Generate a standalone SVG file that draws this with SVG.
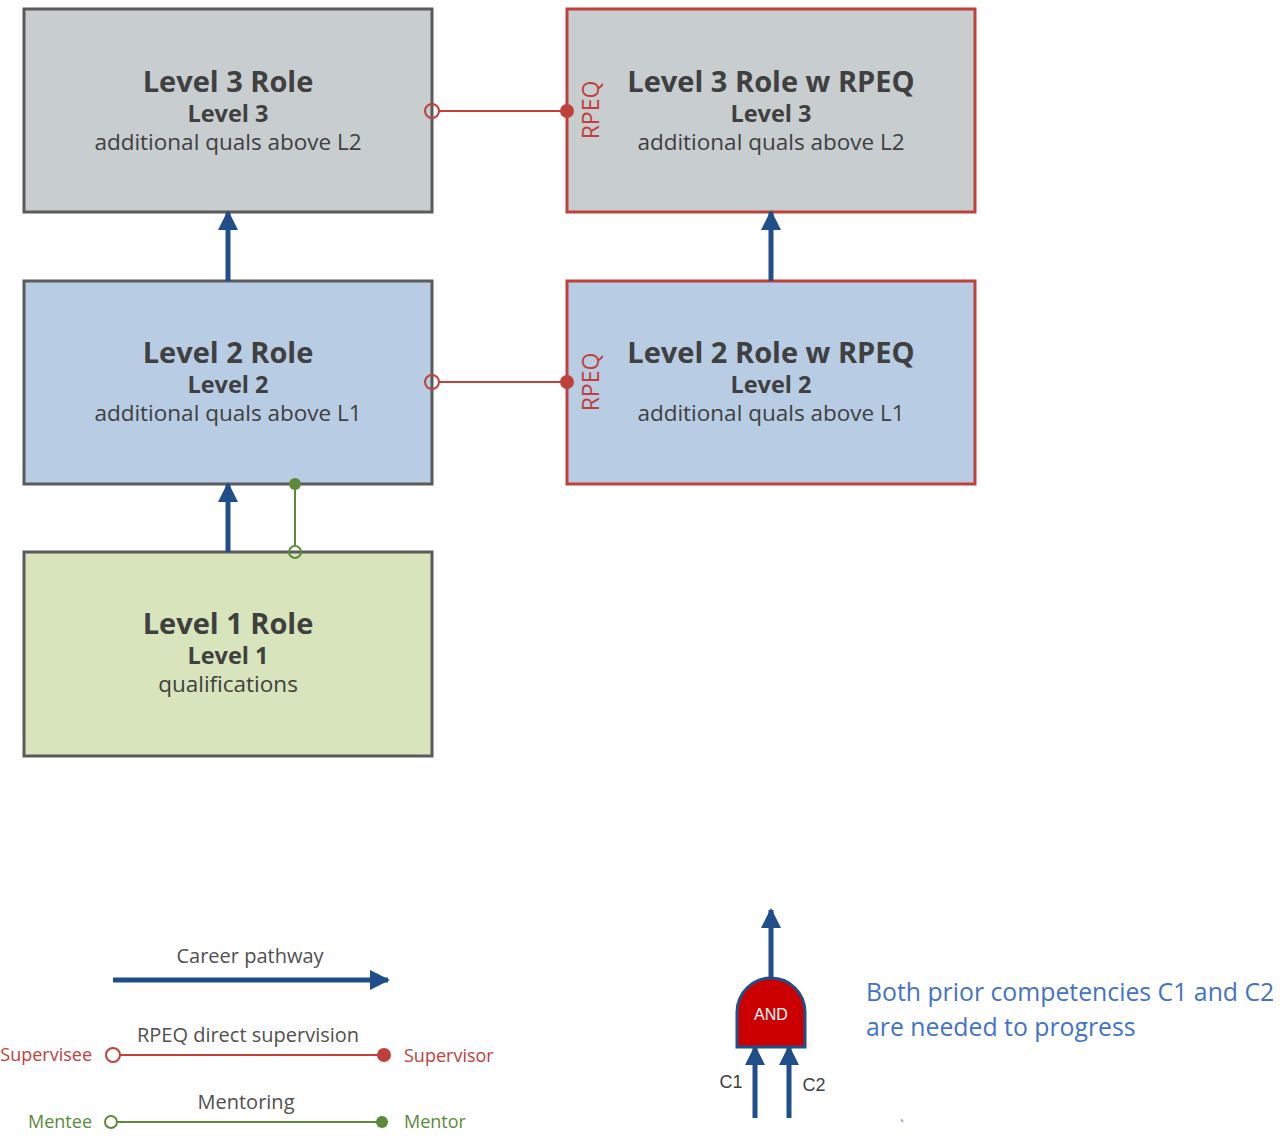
<svg xmlns="http://www.w3.org/2000/svg" width="1284" height="1136" viewBox="0 0 1284 1136">
<defs>
<marker id="arr" viewBox="0 0 10 10" refX="9" refY="5" markerWidth="4" markerHeight="4" orient="auto" markerUnits="strokeWidth">
<path d="M0,0 L10,5 L0,10 z" fill="#1f4e8a"/>
</marker>
<style>
.box{stroke-width:3}
.gray{fill:#c8cdd0;stroke:#5b5b5b}
.blue{fill:#b8cce4;stroke:#5b5b5b}
.green{fill:#d8e4bc;stroke:#5b5b5b}
.red{stroke:#c0403a}
.t1{font-family:"Open Sans",sans-serif;font-weight:bold;font-size:29px;fill:#404040;text-anchor:middle}
.t2{font-family:"Open Sans",sans-serif;font-weight:bold;font-size:23.5px;fill:#404040;text-anchor:middle}
.t3{font-family:"Open Sans",sans-serif;font-size:22.5px;fill:#404040;text-anchor:middle}
.rp{font-family:"Open Sans",sans-serif;font-size:23px;fill:#c0403a;text-anchor:middle}
.path{stroke:#1f4e8a;stroke-width:5;fill:none;marker-end:url(#arr)}
.sup{stroke:#c0403a;stroke-width:2;fill:none}
.men{stroke:#5a8a3a;stroke-width:2;fill:none}
.lg{font-family:"Open Sans",sans-serif;font-size:20px;fill:#505050;text-anchor:middle}
.lr{font-family:"Open Sans",sans-serif;font-size:18px;fill:#c0403a}
.lgn{font-family:"Open Sans",sans-serif;font-size:18px;fill:#5a8a3a}
</style>
</defs>

<g id="level3role">
<rect class="box gray" x="24" y="9" width="408" height="203"/>
<text class="t1" x="228" y="92">Level 3 Role</text>
<text class="t2" x="228" y="122">Level 3</text>
<text class="t3" x="228" y="150">additional quals above L2</text>
</g>
<g id="level3rpeq">
<rect class="box gray red" x="567" y="9" width="408" height="203"/>
<text class="t1" x="771" y="92">Level 3 Role w RPEQ</text>
<text class="t2" x="771" y="122">Level 3</text>
<text class="t3" x="771" y="150">additional quals above L2</text>
<text class="rp" transform="translate(599,110) rotate(-90)">RPEQ</text>
</g>
<g id="level2role">
<rect class="box blue" x="24" y="281" width="408" height="203"/>
<text class="t1" x="228" y="363">Level 2 Role</text>
<text class="t2" x="228" y="393">Level 2</text>
<text class="t3" x="228" y="421">additional quals above L1</text>
</g>
<g id="level2rpeq">
<rect class="box blue red" x="567" y="281" width="408" height="203"/>
<text class="t1" x="771" y="363">Level 2 Role w RPEQ</text>
<text class="t2" x="771" y="393">Level 2</text>
<text class="t3" x="771" y="421">additional quals above L1</text>
<text class="rp" transform="translate(599,382) rotate(-90)">RPEQ</text>
</g>
<g id="level1role">
<rect class="box green" x="24" y="552" width="408" height="204"/>
<text class="t1" x="228" y="634">Level 1 Role</text>
<text class="t2" x="228" y="664">Level 1</text>
<text class="t3" x="228" y="692">qualifications</text>
</g>

<g id="connectors">
<line class="path" x1="228" y1="281" x2="228" y2="212"/>
<line class="path" x1="771" y1="281" x2="771" y2="212"/>
<line class="path" x1="228" y1="552" x2="228" y2="484"/>
<line class="sup" x1="439" y1="111" x2="567" y2="111"/>
<circle cx="432" cy="111" r="7" fill="none" stroke="#c0403a" stroke-width="2"/>
<circle cx="567" cy="111" r="7" fill="#c0403a"/>
<line class="sup" x1="439" y1="382" x2="567" y2="382"/>
<circle cx="432" cy="382" r="7" fill="none" stroke="#c0403a" stroke-width="2"/>
<circle cx="567" cy="382" r="7" fill="#c0403a"/>
<line class="men" x1="295" y1="545" x2="295" y2="484"/>
<circle cx="295" cy="552" r="6" fill="none" stroke="#5a8a3a" stroke-width="2"/>
<circle cx="295" cy="484" r="6" fill="#5a8a3a"/>
</g>

<g id="legend">
<text class="lg" x="250" y="963">Career pathway</text>
<line class="path" x1="113" y1="980" x2="388" y2="980"/>
<text class="lg" x="248" y="1042">RPEQ direct supervision</text>
<line class="sup" x1="120" y1="1055" x2="384" y2="1055"/>
<circle cx="113" cy="1055" r="7" fill="#fff" stroke="#c0403a" stroke-width="2"/>
<circle cx="384" cy="1055" r="7" fill="#c0403a"/>
<text class="lr" x="92" y="1061" text-anchor="end">Supervisee</text>
<text class="lr" x="404" y="1062">Supervisor</text>
<text class="lg" x="246" y="1109">Mentoring</text>
<line class="men" x1="117" y1="1122" x2="382" y2="1122"/>
<circle cx="111" cy="1122" r="6" fill="#fff" stroke="#5a8a3a" stroke-width="2"/>
<circle cx="382" cy="1122" r="6" fill="#5a8a3a"/>
<text class="lgn" x="92" y="1128" text-anchor="end">Mentee</text>
<text class="lgn" x="404" y="1128">Mentor</text>
</g>

<g id="andgate">
<line class="path" x1="771" y1="981" x2="771" y2="910"/>
<path d="M737,1047 L737,1012 A34,34 0 0 1 805,1012 L805,1047 Z" fill="#cc0000" stroke="#1f4e8a" stroke-width="3"/>
<text x="771" y="1020" font-family="Liberation Sans,sans-serif" font-size="16" fill="#fff" text-anchor="middle">AND</text>
<line class="path" x1="755" y1="1118" x2="755" y2="1047"/>
<line class="path" x1="789" y1="1118" x2="789" y2="1047"/>
<text x="731" y="1088" font-family="Liberation Sans,sans-serif" font-size="18" fill="#404040" text-anchor="middle">C1</text>
<text x="814" y="1091" font-family="Liberation Sans,sans-serif" font-size="18" fill="#404040" text-anchor="middle">C2</text>
<text x="866" y="1001" font-family="Open Sans,sans-serif" font-size="24.8" fill="#4472c4">Both prior competencies C1 and C2</text>
<text x="866" y="1036" font-family="Open Sans,sans-serif" font-size="24.8" fill="#4472c4">are needed to progress</text>
<text x="900" y="1131" font-family="Open Sans,sans-serif" font-size="14" fill="#4472c4">`</text>
</g>
</svg>
